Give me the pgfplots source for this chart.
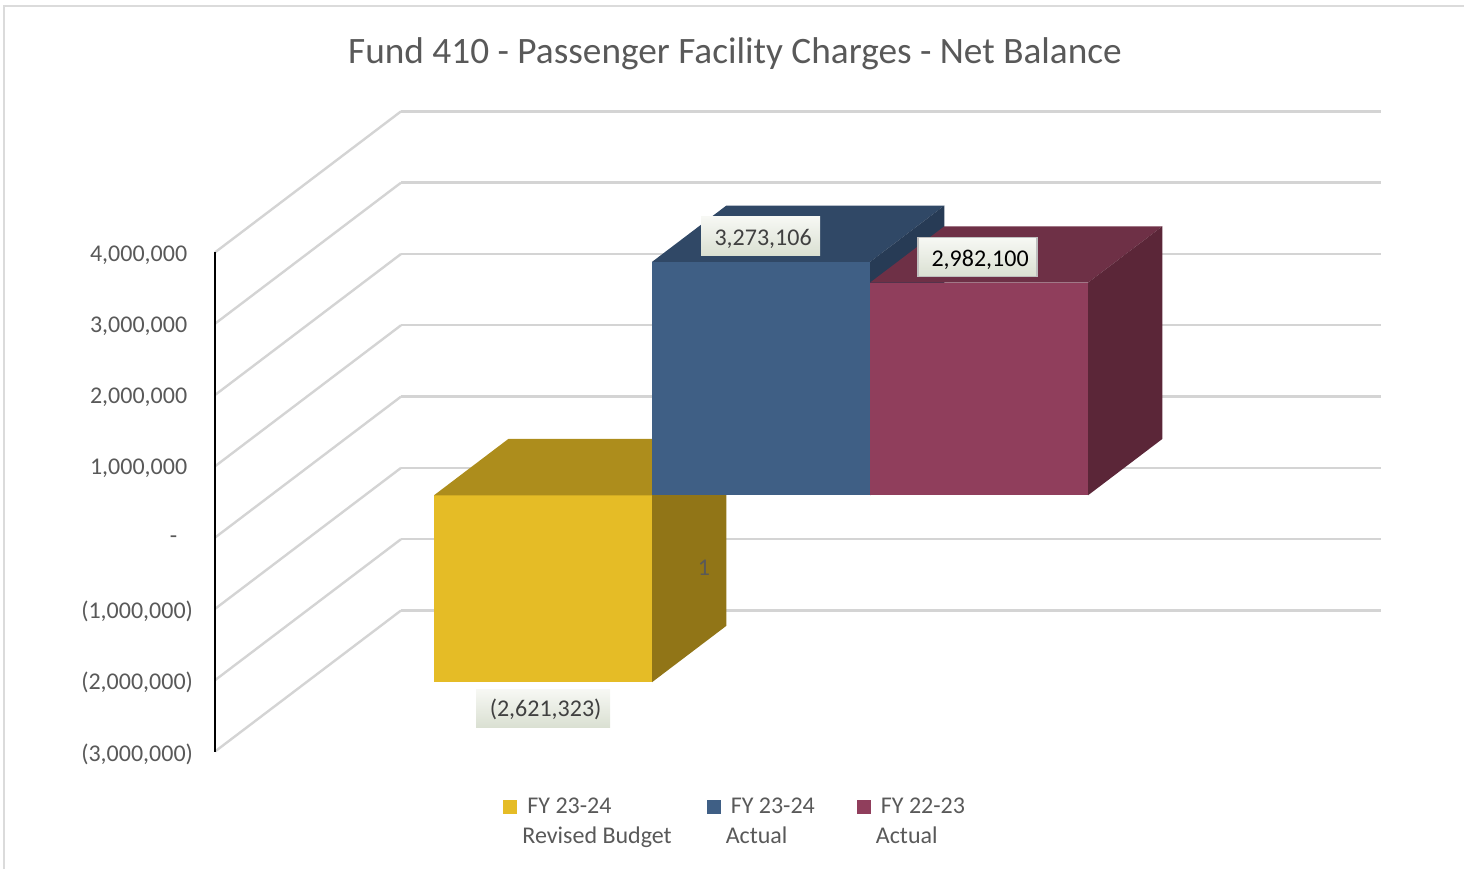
\documentclass[border=0pt]{standalone}
\usepackage{fontspec}
\setmainfont{Carlito}
\usepackage{pgfplots}
\pgfplotsset{compat=1.18}
\definecolor{txt}{HTML}{595959}
\definecolor{gridc}{HTML}{D4D4D4}
\definecolor{yfront}{HTML}{E5BC26}
\definecolor{ytop}{HTML}{AD8D1C}
\definecolor{yside}{HTML}{917517}
\definecolor{bfront}{HTML}{3F5F85}
\definecolor{btop}{HTML}{304866}
\definecolor{bside}{HTML}{273B55}
\definecolor{rfront}{HTML}{903E5C}
\definecolor{rtop}{HTML}{6E3046}
\definecolor{rside}{HTML}{5B2638}
\definecolor{dltop}{HTML}{F7F8F4}
\definecolor{dlbot}{HTML}{DAE0D2}
% x in px from the left wall, y = depth 0..1, z = value in millions
% args: x0, x1, zlow, zhigh, colour prefix
\newcommand{\barbox}[5]{%
  \addplot3[forget plot,fill=#5front,draw=none] coordinates {(#1,0.3,#3)(#2,0.3,#3)(#2,0.3,#4)(#1,0.3,#4)} --cycle;
  \addplot3[forget plot,fill=#5top,draw=none] coordinates {(#1,0.3,#4)(#2,0.3,#4)(#2,0.7,#4)(#1,0.7,#4)} --cycle;
  \addplot3[forget plot,fill=#5side,draw=none] coordinates {(#2,0.3,#3)(#2,0.7,#3)(#2,0.7,#4)(#2,0.3,#4)} --cycle;
}
\newcommand{\dltext}[2][4.75pt]{\raisebox{-#1}[4pt][4pt]{\hspace{2.6pt}#2}}
\newcommand{\negtick}[1]{\raisebox{0.6pt}{#1}\kern1.5pt\mbox{}}
\begin{document}
\begin{tikzpicture}[x=1pt,y=1pt]
\path[use as bounding box] (0,0) rectangle (732,434.5);
\draw[gridc!85,line width=1pt] (2,0) -- (2,431.5) -- (732,431.5);
\begin{axis}[
  at={(107.5pt,165.7pt)}, anchor=origin,
  x={(0.5pt,0pt)}, y={(93pt,70.5pt)}, z={(0pt,35.65pt)},
  xmin=0, xmax=980, ymin=0, ymax=1, zmin=-3, zmax=4,
  clip=false,
  xtick=\empty, ytick=\empty,
  ztick={-3,-2,-1,0,1,2,3,4},
  zticklabels={{\negtick{(3,000,000)}},{\negtick{(2,000,000)}},{\negtick{(1,000,000)}},{\hspace{35pt}\raisebox{-1.5pt}{-}},{1,000,000},{2,000,000},{3,000,000},{4,000,000}},
  z tick label style={anchor=center,xshift=-38.2pt,yshift=-1.2pt,font=\fontsize{12}{14}\selectfont,text=txt},
  major tick length=0pt,
  zmajorgrids,
  grid style={gridc,line width=1.2pt},
  separate axis lines,
  x axis line style={draw=none},
  y axis line style={draw=none},
  z axis line style={draw=none},
  title={Fund 410 - Passenger Facility Charges - Net Balance},
  title style={at={(axis cs:520,0,6.612)},anchor=center,yshift=0pt,font=\fontsize{18.64}{22}\selectfont,text=txt},
  legend style={draw=none,fill=none,at={(axis cs:282,0,-3.583)},anchor=north west,
    legend columns=3,font=\fontsize{12}{15.25}\selectfont,text=txt,
    nodes={align=left,inner sep=0pt},
    /tikz/column 1/.style={column sep=2.5pt},
    /tikz/column 2/.style={column sep=17.5pt},
    /tikz/column 3/.style={column sep=2.5pt},
    /tikz/column 4/.style={column sep=21pt},
    /tikz/column 5/.style={column sep=2.5pt}},
  legend image code/.code={\fill[#1,draw=none] (0pt,4pt) rectangle (7pt,11pt);},
]
\addplot3[forget plot,black,line width=1pt] coordinates {(0,0,-3)(0,0,4)};
\barbox{163.2}{381.2}{-2.621323}{0}{y}
\barbox{381.2}{599.2}{0}{3.273106}{b}
\barbox{599.2}{817.2}{0}{2.982100}{r}
\addlegendimage{fill=yfront}
\addlegendentry{\hspace{2.5pt}FY 23-24\\Revised Budget}
\addlegendimage{fill=bfront}
\addlegendentry{\hspace{2.5pt}FY 23-24\\Actual}
\addlegendimage{fill=rfront}
\addlegendentry{\hspace{2.5pt}FY 22-23\\Actual}
\tikzset{dl/.style={inner sep=0pt,minimum height=19.5pt,font=\fontsize{12}{14}\selectfont,
  top color=dltop,bottom color=dlbot}}
\node[dl,minimum width=59.5pt,text=black!75] at (axis cs:545.5,0,4.229) {\dltext{3,273,106}};
\node[dl,minimum width=59.5pt,text=black,draw=gray!50,line width=0.6pt] at (axis cs:762.5,0,3.934) {\dltext{2,982,100}};
\node[dl,minimum width=67pt,minimum height=19pt,text=black!75] at (axis cs:328,0,-2.392) {\dltext[4pt]{(2,621,323)}};
\node[font=\fontsize{12}{14}\selectfont,text=txt] at (axis cs:489,0,-0.421) {1};
\end{axis}
\end{tikzpicture}
\end{document}
